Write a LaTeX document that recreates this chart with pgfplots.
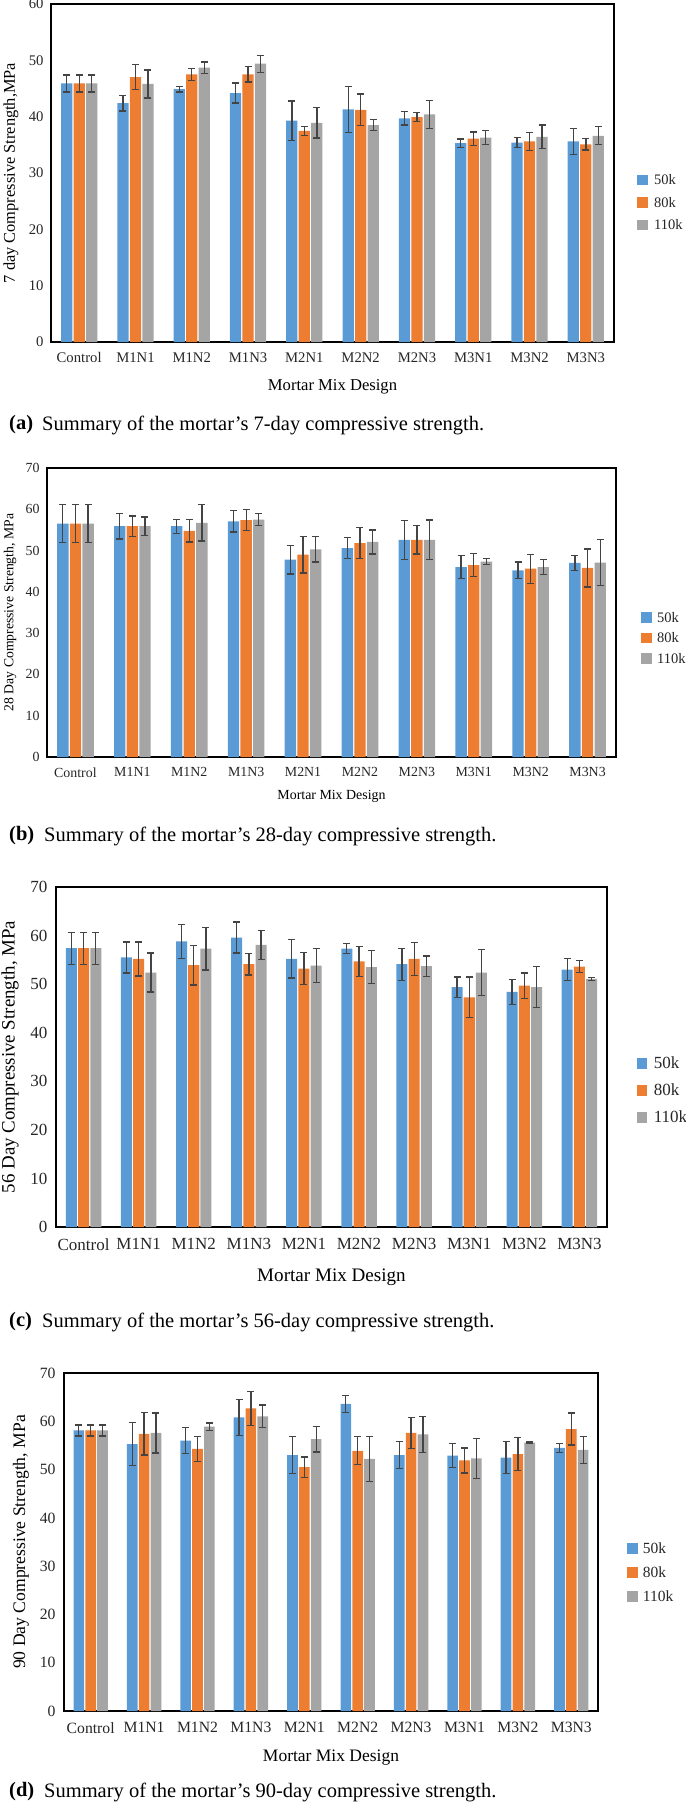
\documentclass[border=0pt]{standalone}
\usepackage{fontspec}
\setmainfont{Liberation Serif}
\usepackage{pgfplots}
\usepackage{pgfplotstable}
\pgfplotsset{compat=1.18}
\definecolor{cb}{RGB}{91,155,213}
\definecolor{co}{RGB}{237,125,49}
\definecolor{cg}{RGB}{165,165,165}
\definecolor{ce}{RGB}{68,68,68}
\newcommand{\fs}[1]{\fontsize{#1}{#1}\selectfont}

\pgfplotstableread{
x b be o oe g ge
0 45.9 1.5 45.9 1.5 45.9 1.5
1 42.4 1.4 47.0 2.2 45.8 2.5
2 44.9 0.5 47.5 1.1 48.7 1.0
3 44.2 1.8 47.5 1.35 49.4 1.5
4 39.3 3.5 37.5 0.8 38.9 2.7
5 41.3 4.1 41.2 2.8 38.5 1.0
6 39.7 1.2 39.9 0.8 40.4 2.5
7 35.3 0.75 36.1 1.2 36.3 1.3
8 35.4 0.9 35.6 1.55 36.4 2.1
9 35.6 2.35 35.1 1.0 36.6 1.6
}\tabA
\pgfplotstableread{
x b be o oe g ge
0 56.5 4.6 56.5 4.6 56.5 4.6
1 55.9 3.1 55.9 2.5 55.9 2.2
2 55.9 1.7 54.8 2.7 56.7 4.4
3 57.1 2.6 57.4 2.5 57.5 1.45
4 47.8 3.5 49.0 4.4 50.3 3.1
5 50.6 2.6 51.8 3.75 52.1 2.9
6 52.6 4.7 52.6 3.4 52.6 4.8
7 46.0 2.75 46.5 2.8 47.3 0.7
8 45.2 2.0 45.6 3.5 46.0 1.8
9 47.0 1.75 45.8 4.6 47.1 5.5
}\tabB
\pgfplotstableread{
x b be o oe g ge
0 57.4 3.3 57.4 3.3 57.4 3.3
1 55.5 3.2 55.2 3.5 52.4 4.0
2 58.8 3.5 53.9 4.05 57.3 4.4
3 59.6 3.2 54.1 2.2 58.1 3.0
4 55.2 3.95 53.2 3.3 53.8 3.5
5 57.3 1.0 54.7 3.1 53.5 3.4
6 54.1 3.3 55.2 3.4 53.7 2.1
7 49.4 2.1 47.3 4.2 52.4 4.7
8 48.4 2.6 49.7 2.6 49.4 4.2
9 53.0 2.3 53.6 1.2 51.1 0.3
}\tabC
\pgfplotstableread{
x b be o oe g ge
0 58.1 1.15 58.1 1.15 58.1 1.15
1 55.3 4.45 57.4 4.4 57.6 4.15
2 56.0 2.65 54.3 2.6 58.9 0.75
3 60.8 3.7 62.7 3.5 61.0 2.35
4 53.0 3.8 50.5 2.1 56.3 2.65
5 63.6 1.8 53.9 2.9 52.2 4.6
6 53.0 2.8 57.6 3.2 57.3 3.7
7 52.9 2.45 51.9 2.6 52.3 4.2
8 52.5 3.3 53.2 3.4 55.6 0.1
9 54.5 0.9 58.4 3.3 54.1 2.8
}\tabD

\pgfplotsset{
 mybars/.style={
   scale only axis,
   anchor=south west,
   xmin=-0.5, xmax=9.5, ymin=0,
   xtick={0,...,9},
   xticklabels={Control,M1N1,M1N2,M1N3,M2N1,M2N2,M2N3,M3N1,M3N2,M3N3},
   major tick length=0pt,
   axis line style={line width=1.4pt, black},
   /pgf/number format/assume math mode=true,
   tick label style={text=black!85},
   legend cell align=left,
   legend style={draw=none, fill=none, inner sep=0pt, anchor=west, text=black!85,
     nodes={inner sep=0pt, text depth=0pt}},
   clip=false,
 },
 sb/.style={ybar, bar width=0.2, bar shift=0, draw=none, forget plot,
   error bars/y dir=both, error bars/y explicit,
   error bars/error bar style={ce, line width=1.3pt},
   error bars/error mark options={rotate=90, mark size=3.5pt, ce, line width=1.3pt}},
 limg/.style={legend image code/.code={\fill[#1] (0pt,-4.75pt) rectangle (9.5pt,4.75pt);}},
}

\newcommand{\bars}[1]{%
  \addplot[fill=cb, sb] table[x expr=\thisrow{x}-0.222, y=b, y error=be] {#1};
  \addplot[fill=co, sb] table[x=x, y=o, y error=oe] {#1};
  \addplot[fill=cg, sb] table[x expr=\thisrow{x}+0.222, y=g, y error=ge] {#1};
  \addlegendimage{limg=cb}\addlegendentry{50k}
  \addlegendimage{limg=co}\addlegendentry{80k}
  \addlegendimage{limg=cg}\addlegendentry{110k}
}

\begin{document}
\begin{tikzpicture}
\path[use as bounding box] (0pt,0pt) rectangle (685pt,-1811pt);

% (a)
\begin{axis}[mybars, at={(51pt,-342pt)}, width=563pt, height=338pt,
  ymax=60, ytick={0,10,...,60},
  xticklabel style={font=\fs{14.7}, yshift=-7pt},
  yticklabel style={font=\fs{14.7}, xshift=-4pt},
  every axis y label/.style={at={(axis description cs:-0.071,0.5)}, rotate=90, anchor=center, font=\fs{16.4}},
  every axis x label/.style={at={(axis description cs:0.5,-0.133)}, anchor=center, font=\fs{16.6}},
  ylabel={7 day Compressive Strength,MPa}, xlabel={Mortar Mix Design},
  legend style={at={(axis description cs:1.041,0.414)}, font=\fs{14.5}, row sep=12.5pt, nodes={text height=10pt},
    /tikz/every odd column/.append style={column sep=7pt}}]
\bars{\tabA}
\end{axis}
\node[anchor=west, font=\fs{20.5}\bfseries, inner sep=0pt] at (9pt,-425pt) {(a)};
\node[anchor=west, font=\fs{20.5}, inner sep=0pt] at (42pt,-425pt) {Summary of the mortar’s 7-day compressive strength.};

% (b)
\begin{axis}[mybars, at={(47pt,-757pt)}, width=569pt, height=289pt,
  ymax=70, ytick={0,10,...,70},
  xticklabel style={font=\fs{13.9}, yshift=-7pt},
  yticklabel style={font=\fs{13.9}, xshift=-4pt},
  every axis y label/.style={at={(axis description cs:-0.065,0.5)}, rotate=90, anchor=center, font=\fs{13.7}},
  every axis x label/.style={at={(axis description cs:0.5,-0.138)}, anchor=center, font=\fs{13.9}},
  ylabel={28 Day Compressive Strength, MPa}, xlabel={Mortar Mix Design},
  legend style={at={(axis description cs:1.044,0.412)}, font=\fs{14.5}, row sep=10.5pt, nodes={text height=10pt},
    /tikz/every odd column/.append style={column sep=6pt}}]
\bars{\tabB}
\end{axis}
\node[anchor=west, font=\fs{20.5}\bfseries, inner sep=0pt] at (9pt,-836pt) {(b)};
\node[anchor=west, font=\fs{20.5}, inner sep=0pt] at (44pt,-836pt) {Summary of the mortar’s 28-day compressive strength.};

% (c)
\begin{axis}[mybars, at={(56pt,-1227pt)}, width=551pt, height=340pt,
  ymax=70, ytick={0,10,...,70},
  xticklabel style={font=\fs{17}, yshift=-8pt},
  yticklabel style={font=\fs{17}, xshift=-5pt},
  every axis y label/.style={at={(axis description cs:-0.0835,0.5)}, rotate=90, anchor=center, font=\fs{18.9}},
  every axis x label/.style={at={(axis description cs:0.5,-0.147)}, anchor=center, font=\fs{19.1}},
  ylabel={56 Day Compressive Strength, MPa}, xlabel={Mortar Mix Design},
  legend style={at={(axis description cs:1.054,0.403)}, font=\fs{17}, row sep=15pt, nodes={text height=12pt},
    /tikz/every odd column/.append style={column sep=7pt}}]
\bars{\tabC}
\end{axis}
\node[anchor=west, font=\fs{20.5}\bfseries, inner sep=0pt] at (9pt,-1322pt) {(c)};
\node[anchor=west, font=\fs{20.5}, inner sep=0pt] at (42pt,-1322pt) {Summary of the mortar’s 56-day compressive strength.};

% (d)
\begin{axis}[mybars, at={(64pt,-1711pt)}, width=534pt, height=338pt,
  ymax=70, ytick={0,10,...,70},
  xticklabel style={font=\fs{15.7}, yshift=-8pt},
  yticklabel style={font=\fs{15.7}, xshift=-5pt},
  every axis y label/.style={at={(axis description cs:-0.0805,0.5)}, rotate=90, anchor=center, font=\fs{17.6}},
  every axis x label/.style={at={(axis description cs:0.5,-0.139)}, anchor=center, font=\fs{17.5}},
  ylabel={90 Day Compressive Strength, MPa}, xlabel={Mortar Mix Design},
  legend style={at={(axis description cs:1.054,0.411)}, font=\fs{15.5}, row sep=13pt, nodes={text height=11pt},
    /tikz/every odd column/.append style={column sep=6pt}}]
\bars{\tabD}
\end{axis}
\node[anchor=west, font=\fs{20.5}\bfseries, inner sep=0pt] at (9pt,-1792pt) {(d)};
\node[anchor=west, font=\fs{20.5}, inner sep=0pt] at (44pt,-1792pt) {Summary of the mortar’s 90-day compressive strength.};
\end{tikzpicture}
\end{document}
